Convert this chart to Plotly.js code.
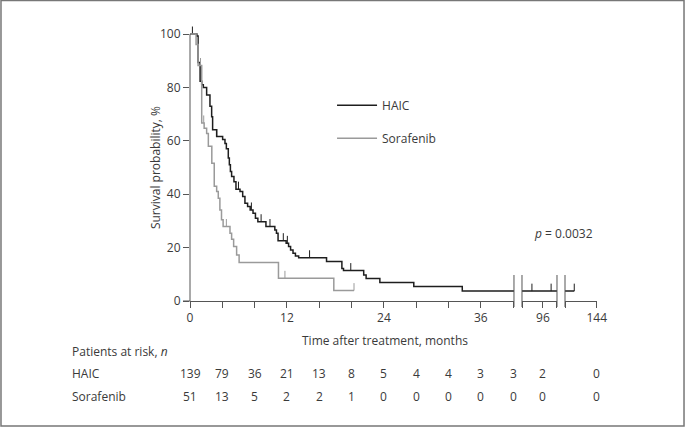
<!DOCTYPE html>
<html>
<head>
<meta charset="utf-8">
<script src="https://cdn.plot.ly/plotly-3.0.1.min.js"></script>
<style>html,body{margin:0;padding:0;background:#fff;}#chart{width:685px;height:427px;}</style>
</head>
<body>
<div id="chart"></div>
<script>
// ---- Data ----
const haicTimes = [0, 0.85, 1.0, 1.25, 1.45, 1.65, 2.06, 2.47, 2.68, 2.8, 3.3, 4.04, 4.33, 4.5, 4.74, 4.87, 5.0, 5.15, 5.44, 5.69, 6.19, 6.52, 6.8, 7.13, 7.45, 7.8, 8.1, 8.4, 9.4, 10.5, 10.7, 10.9, 11.9, 12.2, 12.45, 12.75, 13.05, 13.45, 16.9, 18.8, 19.0, 21.5, 21.8, 23.5, 27.7, 33.7, 127];
const haicSurv  = [100, 99.3, 89.3, 82.3, 81.0, 80.0, 77.2, 72.9, 69.0, 64.1, 61.6, 60.5, 59.0, 57.0, 53.6, 51.0, 48.5, 46.6, 44.7, 41.9, 41.0, 39.1, 36.6, 35.4, 34.1, 32.9, 31.0, 29.7, 27.9, 26.6, 25.4, 22.6, 21.6, 20.4, 19.1, 17.9, 16.9, 16.2, 14.8, 12.2, 11.4, 9.7, 8.4, 6.9, 5.4, 3.7, 3.7];
const haicCensored = [0.3, 3.3, 6.0, 7.6, 8.8, 9.9, 11.55, 12.05, 14.8, 19.9, 77, 110, 127];

const sorTimes = [0, 0.75, 1.0, 1.45, 1.75, 2.06, 2.27, 2.7, 3.0, 3.3, 3.5, 3.7, 3.9, 4.1, 4.95, 5.15, 5.4, 5.77, 6.08, 10.95, 17.8, 20.3];
const sorSurv  = [100, 96.1, 88.2, 66.7, 64.7, 62.7, 58.0, 51.6, 43.0, 41.0, 38.5, 34.1, 30.4, 27.9, 25.4, 23.1, 20.4, 17.2, 14.4, 8.5, 3.9, 3.9];
const sorCensored = [0.9, 1.3, 1.7, 4.5, 11.75, 20.3];

const atRiskTimes = [0, 4, 8, 12, 16, 20, 24, 28, 32, 36, 40, 96, 144];
const haicAtRisk  = [139, 79, 36, 21, 13, 8, 5, 4, 4, 3, 3, 2, 0];
const sorAtRisk   = [51, 13, 5, 2, 2, 1, 0, 0, 0, 0, 0, 0, 0];

const seg1Ticks = [0, 4, 8, 12, 16, 20, 24, 28, 32, 36, 40];
const seg1Labels = ['0', '', '', '12', '', '', '24', '', '', '36', ''];
const seg2Ticks = [60, 96, 120];
const seg2Labels = ['', '96', ''];
const seg3Ticks = [120, 144];
const seg3Labels = ['', '144'];
const yTicks = [0, 20, 40, 60, 80, 100];

const seriesNames = ['HAIC', 'Sorafenib'];
const pText = '<i>p</i> = 0.0032';

// ---- Styles ----
const FONT = 'Open Sans, Noto Sans, sans-serif';
const TXT = '#3a3a3a';
const AXC = '#555555';
const colors = ['#1e1e1e', '#9a9a9a'];
const censorLen = 2.8; // in % units

function stepAt(times, surv, t) {
  let v = surv[0];
  for (let i = 0; i < times.length; i++) { if (times[i] <= t) v = surv[i]; }
  return v;
}
function censorSegs(times, surv, cens) {
  const xs = [], ys = [];
  cens.forEach(t => { const s = stepAt(times, surv, t); xs.push(t, t, null); ys.push(s, s + censorLen, null); });
  return {xs, ys};
}

const series = [
  {name: seriesNames[0], t: haicTimes, s: haicSurv, c: haicCensored, color: colors[0]},
  {name: seriesNames[1], t: sorTimes, s: sorSurv, c: sorCensored, color: colors[1]}
];
const axes = ['x', 'x2', 'x3'];
const traces = [];
series.forEach((sr, k) => {
  const cs = censorSegs(sr.t, sr.s, sr.c);
  axes.forEach((ax, j) => {
    traces.push({type: 'scatter', mode: 'lines', x: sr.t, y: sr.s, xaxis: ax, yaxis: 'y',
      line: {shape: 'hv', color: sr.color, width: 1.5}, name: sr.name,
      legendgroup: sr.name, showlegend: j === 0, hoverinfo: 'skip'});
    traces.push({type: 'scatter', mode: 'lines', x: cs.xs, y: cs.ys, xaxis: ax, yaxis: 'y',
      line: {color: sr.color, width: 1}, legendgroup: sr.name, showlegend: false, hoverinfo: 'skip'});
  });
});

function axisFor(t) { return t <= 40 ? 'x' : (t <= 120 ? 'x2' : 'x3'); }

const annotations = [];
const rowY = [-0.265, -0.349];
[haicAtRisk, sorAtRisk].forEach((row, r) => {
  annotations.push({xref: 'paper', yref: 'paper', x: -0.2948, y: rowY[r], xanchor: 'left', yanchor: 'middle',
    text: seriesNames[r], showarrow: false, font: {family: FONT, size: 12, color: TXT}});
  row.forEach((v, i) => {
    annotations.push({xref: axisFor(atRiskTimes[i]), yref: 'paper', x: atRiskTimes[i], y: rowY[r],
      xanchor: 'center', yanchor: 'middle', text: String(v), showarrow: false,
      font: {family: FONT, size: 12, color: TXT}});
  });
});
annotations.push({xref: 'paper', yref: 'paper', x: -0.2948, y: -0.182, xanchor: 'left', yanchor: 'middle',
  text: 'Patients at risk, <i>n</i>', showarrow: false, font: {family: FONT, size: 12, color: TXT}});
annotations.push({xref: 'paper', yref: 'paper', x: 0.479, y: -0.142, xanchor: 'center', yanchor: 'middle',
  text: 'Time after treatment, months', showarrow: false, font: {family: FONT, size: 12, color: TXT}});
annotations.push({xref: 'paper', yref: 'paper', x: -0.086, y: 0.487, xanchor: 'center', yanchor: 'middle',
  textangle: -90, text: 'Survival probability, %', showarrow: false, font: {family: FONT, size: 12, color: TXT}});
annotations.push({xref: 'paper', yref: 'paper', x: 0.995, y: 0.247, xanchor: 'right', yanchor: 'middle',
  text: pText, showarrow: false, font: {family: FONT, size: 12, color: TXT}});

const d1 = [0, 0.796], d2 = [0.8157, 0.9017], d3 = [0.9214, 1];
const brk = (x) => ({type: 'line', xref: 'paper', yref: 'paper', x0: x, x1: x, y0: -0.0218, y1: 0.0945,
  line: {color: AXC, width: 1}});
const shapes = [
  brk(d1[1]), brk(d2[0]), brk(d2[1]), brk(d3[0]),
  {type: 'line', xref: 'paper', yref: 'y', x0: 0, x1: 0, y0: 0, y1: 100, line: {color: AXC, width: 1}},
  {type: 'line', xref: 'paper', yref: 'paper', x0: -0.0172, x1: 0, y0: 0, y1: 0, line: {color: AXC, width: 1}},
  {type: 'rect', xref: 'paper', yref: 'paper', x0: -0.4644, x1: 1.2138, y0: -0.4545, y1: 1.0927,
    line: {color: '#777777', width: 1.5}}
];

const xCommon = {showline: true, linecolor: AXC, linewidth: 1, ticks: 'outside', ticklen: 6, tickcolor: AXC,
  tickwidth: 1, showgrid: false, zeroline: false, anchor: 'y',
  tickfont: {family: FONT, size: 12, color: TXT}, fixedrange: true};

const layout = {
  width: 685, height: 427,
  margin: {l: 190, r: 88, t: 26, b: 126},
  paper_bgcolor: '#ffffff', plot_bgcolor: '#ffffff',
  font: {family: FONT, size: 12, color: TXT},
  showlegend: true,
  legend: {x: 0.349, y: 0.765, xanchor: 'left', yanchor: 'top', traceorder: 'grouped', tracegroupgap: 14,
    itemwidth: 40, bgcolor: 'rgba(0,0,0,0)', font: {family: FONT, size: 12, color: TXT}},
  xaxis: Object.assign({}, xCommon, {domain: d1, range: [0, 40.1], tickmode: 'array', tickvals: seg1Ticks, ticktext: seg1Labels}),
  xaxis2: Object.assign({}, xCommon, {domain: d2, range: [59.9, 120.1], tickmode: 'array', tickvals: seg2Ticks, ticktext: seg2Labels}),
  xaxis3: Object.assign({}, xCommon, {domain: d3, range: [120, 144.2], tickmode: 'array', tickvals: seg3Ticks, ticktext: seg3Labels}),
  yaxis: {domain: [0, 1], range: [0, 103], showline: false, ticks: 'outside', ticklen: 6, tickcolor: AXC, tickwidth: 1,
    tickmode: 'array', tickvals: yTicks, showgrid: false, zeroline: false, fixedrange: true,
    tickfont: {family: FONT, size: 12, color: TXT}},
  annotations: annotations,
  shapes: shapes
};

Plotly.newPlot('chart', traces, layout, {staticPlot: true, displayModeBar: false});
</script>
</body>
</html>
